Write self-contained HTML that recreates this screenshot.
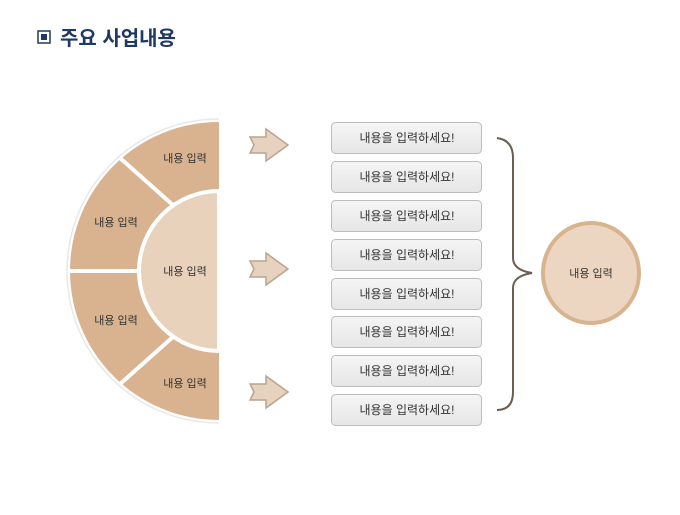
<!DOCTYPE html>
<html><head><meta charset="utf-8"><style>
body{margin:0;width:680px;height:510px;background:#fff;overflow:hidden;font-family:"Liberation Sans","Noto Sans CJK KR",sans-serif}
</style></head><body>
<svg width="680" height="510" xmlns="http://www.w3.org/2000/svg" font-family="Liberation Sans, Noto Sans CJK KR, sans-serif">
<rect x="38" y="31" width="12" height="12" fill="#fff" stroke="#1f3864" stroke-width="1.5"/>
<rect x="41" y="34" width="6" height="6" fill="#1f3864"/>
<text x="60" y="45" font-size="20" font-weight="bold" fill="#1f3864">주요 사업내용</text>

<path d="M219,119 A152,152 0 0 0 219,423" fill="none" stroke="#e8e8e8" stroke-width="1.5"/>
<path d="M219,122 A149,149 0 0 0 219,420 Z" fill="#d9b38f"/>
<path d="M219,191 A80,80 0 0 0 219,351 Z" fill="#e9d2bb" stroke="#fff" stroke-width="4"/>
<line x1="174" y1="206" x2="120" y2="158" stroke="#fff" stroke-width="4"/>
<line x1="174" y1="336" x2="120" y2="384" stroke="#fff" stroke-width="4"/>
<line x1="68" y1="271" x2="139" y2="271" stroke="#fff" stroke-width="4"/>
<g font-size="11" fill="#333" text-anchor="middle">
<text x="185" y="162">내용 입력</text>
<text x="116" y="226">내용 입력</text>
<text x="185" y="275">내용 입력</text>
<text x="116" y="324">내용 입력</text>
<text x="185" y="387">내용 입력</text>
</g>

<g fill="#e6d2bf" stroke="#b9a48e" stroke-width="1.5">
<path d="M250,137 L266,137 L266,129 L288,145 L266,161 L266,153 L250,153 L254,145 Z"/>
<path d="M250,261 L266,261 L266,253 L288,269 L266,285 L266,277 L250,277 L254,269 Z"/>
<path d="M250,384 L266,384 L266,376 L288,392 L266,408 L266,400 L250,400 L254,392 Z"/>
</g>

<defs><linearGradient id="g" x1="0" y1="0" x2="0" y2="1"><stop offset="0" stop-color="#f5f5f5"/><stop offset="1" stop-color="#e6e6e6"/></linearGradient></defs>
<g>
<rect x="331.5" y="122.5" width="150" height="31" rx="4" fill="url(#g)" stroke="#bdbdbd"/>
<rect x="331.5" y="161.5" width="150" height="31" rx="4" fill="url(#g)" stroke="#bdbdbd"/>
<rect x="331.5" y="200.5" width="150" height="31" rx="4" fill="url(#g)" stroke="#bdbdbd"/>
<rect x="331.5" y="239.5" width="150" height="31" rx="4" fill="url(#g)" stroke="#bdbdbd"/>
<rect x="331.5" y="278.5" width="150" height="31" rx="4" fill="url(#g)" stroke="#bdbdbd"/>
<rect x="331.5" y="316.5" width="150" height="31" rx="4" fill="url(#g)" stroke="#bdbdbd"/>
<rect x="331.5" y="355.5" width="150" height="31" rx="4" fill="url(#g)" stroke="#bdbdbd"/>
<rect x="331.5" y="394.5" width="150" height="31" rx="4" fill="url(#g)" stroke="#bdbdbd"/>
</g>
<g font-size="12" fill="#333" text-anchor="middle">
<text x="407" y="142">내용을 입력하세요!</text>
<text x="407" y="181">내용을 입력하세요!</text>
<text x="407" y="220">내용을 입력하세요!</text>
<text x="407" y="259">내용을 입력하세요!</text>
<text x="407" y="298">내용을 입력하세요!</text>
<text x="407" y="336">내용을 입력하세요!</text>
<text x="407" y="375">내용을 입력하세요!</text>
<text x="407" y="414">내용을 입력하세요!</text>
</g>

<path d="M497,138 Q513,140 513,158 L513,258 Q513,270 532,273 Q513,276 513,288 L513,392 Q513,410 497,410" fill="none" stroke="#6e5e52" stroke-width="2"/>

<ellipse cx="591" cy="273" rx="48" ry="50" fill="#ecd6c1" stroke="#d8b48e" stroke-width="4"/>
<text x="591" y="277" font-size="11" fill="#333" text-anchor="middle">내용 입력</text>
</svg>
</body></html>
